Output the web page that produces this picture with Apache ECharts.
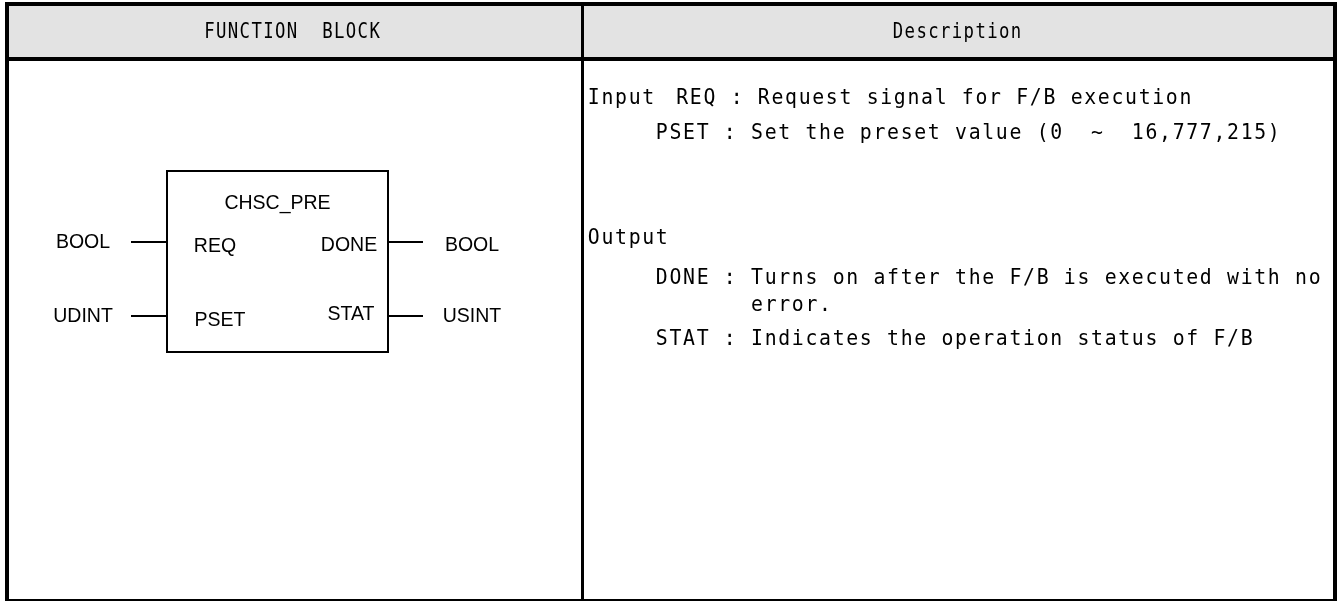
<!DOCTYPE html>
<html><head><meta charset="utf-8">
<script src="https://cdn.jsdelivr.net/npm/echarts@6/dist/echarts.min.js"></script>
<style>html,body{margin:0;padding:0;background:#fff}#c{width:1343px;height:601px}</style>
</head><body><div id="c"></div>
<script>
// ---- content ----
const headers = ['FUNCTION  BLOCK', 'Description'];
const blockName = 'CHSC_PRE';
const inputPins = ['REQ', 'PSET'];
const inputTypes = ['BOOL', 'UDINT'];
const outputPins = ['DONE', 'STAT'];
const outputTypes = ['BOOL', 'USINT'];
const inputLabel = 'Input';
const outputLabel = 'Output';
const inputDescriptions = ['REQ : Request signal for F/B execution', 'PSET : Set the preset value (0  ~  16,777,215)'];
const outputDescriptions = ['DONE : Turns on after the F/B is executed with no', '       error.', 'STAT : Indicates the operation status of F/B'];

// ---- layout ----
const L = 7, R = 1335, T = 4, HB = 59, D = 582.5, B = 600;
const monoFont = '"DejaVu Sans Mono", "Liberation Mono", monospace';
const sansFont = '"Liberation Sans", Arial, sans-serif';
const MONO_SIZE = 22;
const PITCH = 13.6;
const HEAD_PITCH = 11.8;
const g = [];
const lineStyle = (w) => ({stroke:'#000', lineWidth:w});

// fixed-pitch text: every character centred in its own cell of width `pitch`
function monoText(x0, y, str, pitch, center) {
  const w = str.length * pitch;
  const start = center ? x0 - w / 2 : x0;
  const sx = Math.min(0.9, 0.88 * pitch / (0.6 * MONO_SIZE));
  for (let i = 0; i < str.length; i++) {
    const ch = str[i];
    if (ch === ' ') continue;
    g.push({type:'text', x:start + (i + 0.5) * pitch, y:y, scaleX:sx,
      style:{text:ch, font:MONO_SIZE + 'px ' + monoFont, fill:'#000', align:'center', verticalAlign:'middle'}, z:6});
  }
}

// header fill
g.push({type:'rect', shape:{x:L, y:T, width:R-L, height:HB-T}, style:{fill:'#e3e3e3'}, z:0});
// table lines
g.push({type:'line', shape:{x1:L-2, y1:T, x2:R+2, y2:T}, style:lineStyle(4), z:5});
g.push({type:'line', shape:{x1:L, y1:HB, x2:R, y2:HB}, style:lineStyle(4), z:5});
g.push({type:'line', shape:{x1:L, y1:T, x2:L, y2:B+1}, style:lineStyle(4), z:5});
g.push({type:'line', shape:{x1:R, y1:T, x2:R, y2:B+1}, style:lineStyle(4), z:5});
g.push({type:'line', shape:{x1:D, y1:T, x2:D, y2:B+1}, style:lineStyle(3), z:5});
g.push({type:'line', shape:{x1:L, y1:B, x2:R, y2:B}, style:lineStyle(2), z:5});
// headers
monoText(292, (T + HB) / 2 + 1, headers[0], HEAD_PITCH, true);
monoText(957, (T + HB) / 2 + 1, headers[1], HEAD_PITCH, true);

// function block
const bx1 = 167, bx2 = 388, by1 = 171, by2 = 352;
const sans = '19.5px ' + sansFont;
g.push({type:'rect', shape:{x:bx1, y:by1, width:bx2-bx1, height:by2-by1}, style:{fill:'none', stroke:'#000', lineWidth:2}, z:5});
g.push({type:'text', x:(bx1+bx2)/2, y:204, style:{text:blockName, font:sans, fill:'#000', align:'center', verticalAlign:'middle'}, z:6});
const pinY = [242, 316];
const inNameX = [215, 220], outNameX = [349, 351];
inputPins.forEach((p, i) => {
  g.push({type:'line', shape:{x1:131, y1:pinY[i], x2:bx1, y2:pinY[i]}, style:lineStyle(2), z:5});
  g.push({type:'text', x:inNameX[i], y:pinY[i]+5, style:{text:p, font:sans, fill:'#000', align:'center', verticalAlign:'middle'}, z:6});
  g.push({type:'text', x:83, y:pinY[i]+1, style:{text:inputTypes[i], font:sans, fill:'#000', align:'center', verticalAlign:'middle'}, z:6});
});
outputPins.forEach((p, i) => {
  g.push({type:'line', shape:{x1:bx2, y1:pinY[i], x2:423, y2:pinY[i]}, style:lineStyle(2), z:5});
  g.push({type:'text', x:outNameX[i], y:pinY[i]+(i===0?4:-1), style:{text:p, font:sans, fill:'#000', align:'center', verticalAlign:'middle'}, z:6});
  g.push({type:'text', x:472, y:pinY[i]+(i===0?4:1), style:{text:outputTypes[i], font:sans, fill:'#000', align:'center', verticalAlign:'middle'}, z:6});
});

// description: columns counted in character cells from the cell's left text edge
const X0 = 587;
monoText(X0, 98, inputLabel, PITCH);
const inCol = [6.5, 5], inY = [98, 133];
inputDescriptions.forEach((t, i) => monoText(X0 + inCol[i] * PITCH, inY[i], t, PITCH));
monoText(X0, 238, outputLabel, PITCH);
const outY = [278, 305, 339];
outputDescriptions.forEach((t, i) => monoText(X0 + 5 * PITCH, outY[i], t, PITCH));

const chart = echarts.init(document.getElementById('c'), null, {renderer:'canvas'});
chart.setOption({animation:false, backgroundColor:'#fff', graphic:{elements:g}});
</script></body></html>
